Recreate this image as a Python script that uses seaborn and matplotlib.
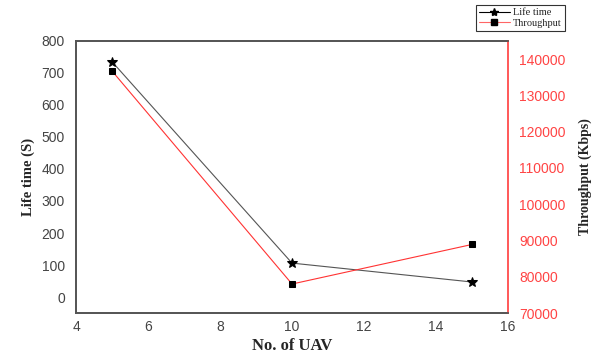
import matplotlib
matplotlib.use("Agg")
import matplotlib.pyplot as plt
import seaborn as sns
import pandas as pd
from matplotlib.lines import Line2D

# --- Data ---
uav_count = [5, 10, 15]
life_time = [735, 106, 47]
throughput = [136700, 78000, 88900]

df = pd.DataFrame({"uav": uav_count, "life": life_time, "thr": throughput})

sns.set_theme(style="white")
plt.rcParams['font.family'] = ['Liberation Sans', 'DejaVu Sans']

fig = plt.figure(figsize=(5.99, 3.59), dpi=100)
ax = fig.add_axes([0.127, 0.128, 0.721, 0.758])
ax2 = ax.twinx()

sns.lineplot(data=df, x="uav", y="life", ax=ax, color="#555555", lw=0.8,
             marker="*", markersize=7, markerfacecolor="black", markeredgecolor="black")
sns.lineplot(data=df, x="uav", y="thr", ax=ax2, color="#ff3333", lw=0.8,
             marker="s", markersize=5, markerfacecolor="black", markeredgecolor="black")

ax.set_xlim(4, 16)
ax.set_xticks([4, 6, 8, 10, 12, 14, 16])
ax.set_ylim(-50, 800)
ax.set_yticks(range(0, 801, 100))
ax2.set_ylim(70000, 145000)
ax2.set_yticks(range(70000, 140001, 10000))

serif = dict(family="Liberation Serif", fontweight="bold")
ax.set_xlabel("No. of UAV", fontsize=12, labelpad=3, **serif)
ax.set_ylabel("Life time (S)", fontsize=10.5, labelpad=5, **serif)
ax2.set_ylabel("Throughput (Kbps)", fontsize=10, labelpad=9, **serif)

ax.tick_params(axis="y", labelsize=10, colors="#444444", length=0, pad=8)
ax.tick_params(axis="x", labelsize=10, colors="#444444", length=0, pad=5)
ax2.tick_params(axis="y", labelsize=10, colors="#ff4444", length=0, pad=8)

for s in ["left", "top", "bottom"]:
    ax.spines[s].set_color("#555555")
    ax2.spines[s].set_color("#555555")
ax2.spines["right"].set_color("#ff4444")
ax.spines["right"].set_visible(False)

handles = [
    Line2D([0], [0], color="black", lw=0.8, marker="*", markersize=6),
    Line2D([0], [0], color="#ff6666", lw=0.8, marker="s", markersize=5,
           markerfacecolor="black", markeredgecolor="black"),
]
leg = fig.legend(handles, ["Life time", "Throughput"], loc="upper left",
                 bbox_to_anchor=(0.795, 0.985), frameon=True, fancybox=False,
                 prop={"family": "Liberation Serif", "size": 7.5},
                 handlelength=3.0, borderpad=0.25, labelspacing=0.15,
                 handletextpad=0.3, borderaxespad=0)
leg.get_frame().set_edgecolor("black")
leg.get_frame().set_linewidth(0.8)

fig.savefig("out.png", dpi=100)
